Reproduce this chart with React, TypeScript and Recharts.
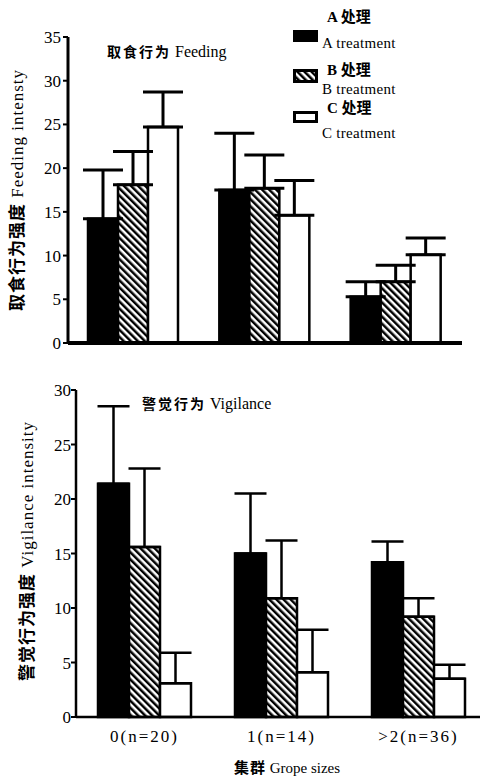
import React from 'react';
import { BarChart, Bar, XAxis, YAxis, ErrorBar, Legend } from 'recharts';

// group sizes along the x axis
const groups = ['0(n=20)', '1(n=14)', '>2(n=36)'];

// feeding intensity (mean, upward SE)
const feedA = [14.2, 17.5, 5.3];
const feedAErr = [5.6, 6.5, 1.7];
const feedB = [18.1, 17.7, 7.0];
const feedBErr = [3.8, 3.8, 1.9];
const feedC = [24.7, 14.6, 10.1];
const feedCErr = [4.0, 4.0, 1.9];

// vigilance intensity
const vigA = [21.4, 15.0, 14.2];
const vigAErr = [7.1, 5.5, 1.9];
const vigB = [15.6, 10.9, 9.2];
const vigBErr = [7.2, 5.3, 1.7];
const vigC = [3.1, 4.1, 3.5];
const vigCErr = [2.8, 3.9, 1.3];

const feedTicks = [0, 5, 10, 15, 20, 25, 30, 35];
const vigTicks = [0, 5, 10, 15, 20, 25, 30];

const legendCn = ['A 处理', 'B 处理', 'C 处理'];
const legendEn = ['A treatment', 'B treatment', 'C treatment'];

const serif = '"Liberation Serif", "DejaVu Serif", "Noto Sans CJK SC", serif';

const feedData = groups.map((g, i) => ({
  name: g,
  a: feedA[i], aErr: [0, feedAErr[i]],
  b: feedB[i], bErr: [0, feedBErr[i]],
  c: feedC[i], cErr: [0, feedCErr[i]],
}));

const vigData = groups.map((g, i) => ({
  name: g,
  a: vigA[i], aErr: [0, vigAErr[i]],
  b: vigB[i], bErr: [0, vigBErr[i]],
  c: vigC[i], cErr: [0, vigCErr[i]],
}));

const tickStyle = { fill: '#000', fontSize: 17, fontFamily: serif };

// where each legend entry sits (page px, top of each line)
const legendPos = [
  { icon: 30, cn: 9, en: 35 },
  { icon: 69, cn: 62, en: 81 },
  { icon: 111, cn: 100, en: 125 },
];

const LegendIcon = ({ idx }: { idx: number }) => {
  const base: React.CSSProperties = { position: 'absolute', left: 293, width: 25, height: 12, boxSizing: 'border-box' };
  if (idx === 0) return <div style={{ ...base, top: legendPos[0].icon, background: '#000' }} />;
  if (idx === 1)
    return (
      <svg style={{ ...base, top: legendPos[1].icon, height: 14 }} width={25} height={14}>
        <rect x={1.5} y={1.5} width={22} height={11} fill="url(#hatchTop)" stroke="#000" strokeWidth={3} />
      </svg>
    );
  return <div style={{ ...base, top: legendPos[2].icon, background: '#fff', border: '3px solid #000' }} />;
};

const renderLegend = (props: any) => {
  const items = props.payload || [];
  return (
    <div style={{ position: 'relative', width: 480, height: 150, fontFamily: serif, color: '#000' }}>
      {items.map((it: any, i: number) => (
        <React.Fragment key={it.value}>
          <LegendIcon idx={i} />
          <div style={{ position: 'absolute', left: 327, top: legendPos[i].cn, fontSize: 15, lineHeight: '16px', fontWeight: 700, whiteSpace: 'nowrap' }}>
            {legendCn[i]}
          </div>
          <div style={{ position: 'absolute', left: 322, top: legendPos[i].en, fontSize: 15, lineHeight: '16px', whiteSpace: 'nowrap', letterSpacing: 0.3 }}>
            {legendEn[i]}
          </div>
        </React.Fragment>
      ))}
    </div>
  );
};

const Hatch = ({ id }: { id: string }) => (
  <defs>
    <pattern id={id} patternUnits="userSpaceOnUse" width={5} height={5} patternTransform="rotate(-45)">
      <rect width={5} height={5} fill="#fff" />
      <line x1={1.25} y1={0} x2={1.25} y2={5} stroke="#000" strokeWidth={2.5} />
    </pattern>
  </defs>
);

export default function App() {
  return (
    <div style={{ position: 'absolute', left: 0, top: 0, width: 480, height: 776, background: '#fff', overflow: 'hidden', fontFamily: serif, color: '#000' }}>
      <div style={{ position: 'absolute', left: 0, top: 0 }}>
        <BarChart width={480} height={360} data={feedData} margin={{ top: 37, right: 18, bottom: 15, left: 0 }} barCategoryGap={20} barGap={0}>
          <Hatch id="hatchTop" />
          <XAxis dataKey="name" tick={false} tickLine={false} height={2} axisLine={{ stroke: '#000', strokeWidth: 4 }} />
          <YAxis width={68} domain={[0, 35]} ticks={feedTicks} tick={tickStyle} tickSize={5} tickMargin={2} interval={0}
            axisLine={{ stroke: '#000', strokeWidth: 3 }} tickLine={{ stroke: '#000', strokeWidth: 2 }} />
          <Legend content={renderLegend} layout="horizontal" verticalAlign="middle" align="center"
            wrapperStyle={{ left: 0, top: 0, width: 480, height: 150 }} />
          <Bar dataKey="a" name="A" fill="#000" stroke="#000" strokeWidth={2.5} isAnimationActive={false}>
            <ErrorBar dataKey="aErr" width={20} stroke="#000" strokeWidth={3} />
          </Bar>
          <Bar dataKey="b" name="B" fill="url(#hatchTop)" stroke="#000" strokeWidth={2.5} isAnimationActive={false}>
            <ErrorBar dataKey="bErr" width={20} stroke="#000" strokeWidth={3} />
          </Bar>
          <Bar dataKey="c" name="C" fill="#fff" stroke="#000" strokeWidth={2.5} isAnimationActive={false}>
            <ErrorBar dataKey="cErr" width={20} stroke="#000" strokeWidth={3} />
          </Bar>
        </BarChart>
      </div>

      <div style={{ position: 'absolute', left: 0, top: 360 }}>
        <BarChart width={490} height={416} data={vigData} margin={{ top: 30, right: 3, bottom: 19, left: 0 }} barCategoryGap={22} barGap={0}>
          <Hatch id="hatchBottom" />
          <XAxis dataKey="name" height={40} tickLine={false} tickSize={0} tickMargin={13} interval={0}
            tick={{ ...tickStyle, fontSize: 17, letterSpacing: 2 }} axisLine={{ stroke: '#000', strokeWidth: 2.5 }} />
          <YAxis width={76} domain={[0, 30]} ticks={vigTicks} tick={tickStyle} tickSize={5} tickMargin={0} interval={0}
            axisLine={{ stroke: '#000', strokeWidth: 2.5 }} tickLine={{ stroke: '#000', strokeWidth: 2 }} />
          <Bar dataKey="a" name="A" fill="#000" stroke="#000" strokeWidth={2.5} isAnimationActive={false}>
            <ErrorBar dataKey="aErr" width={16} stroke="#000" strokeWidth={2.5} />
          </Bar>
          <Bar dataKey="b" name="B" fill="url(#hatchBottom)" stroke="#000" strokeWidth={2.5} isAnimationActive={false}>
            <ErrorBar dataKey="bErr" width={16} stroke="#000" strokeWidth={2.5} />
          </Bar>
          <Bar dataKey="c" name="C" fill="#fff" stroke="#000" strokeWidth={2.5} isAnimationActive={false}>
            <ErrorBar dataKey="cErr" width={16} stroke="#000" strokeWidth={2.5} />
          </Bar>
        </BarChart>
      </div>

      {/* panel titles */}
      <div style={{ position: 'absolute', left: 107, top: 43, fontSize: 16, lineHeight: '18px', whiteSpace: 'nowrap' }}>
        <b style={{ fontSize: 14, letterSpacing: 2 }}>取食行为</b> Feeding
      </div>
      <div style={{ position: 'absolute', left: 142, top: 395, fontSize: 16, lineHeight: '18px', whiteSpace: 'nowrap' }}>
        <b style={{ fontSize: 14, letterSpacing: 2 }}>警觉行为</b> Vigilance
      </div>

      {/* y-axis titles */}
      <div style={{ position: 'absolute', left: 15, top: 190, transform: 'translate(-50%, -50%) rotate(-90deg)', fontSize: 17, whiteSpace: 'nowrap', letterSpacing: 1 }}>
        <b style={{ letterSpacing: 1 }}>取食行为强度</b> Feeding intensty
      </div>
      <div style={{ position: 'absolute', left: 25, top: 551, transform: 'translate(-50%, -50%) rotate(-90deg)', fontSize: 17, whiteSpace: 'nowrap', letterSpacing: 1 }}>
        <b style={{ letterSpacing: 1 }}>警觉行为强度</b> Vigilance intensity
      </div>

      {/* x-axis title */}
      <div style={{ position: 'absolute', left: 287, top: 766, transform: 'translate(-50%, -50%)', fontSize: 15, whiteSpace: 'nowrap' }}>
        <b style={{ letterSpacing: 1 }}>集群</b> Grope sizes
      </div>
    </div>
  );
}
